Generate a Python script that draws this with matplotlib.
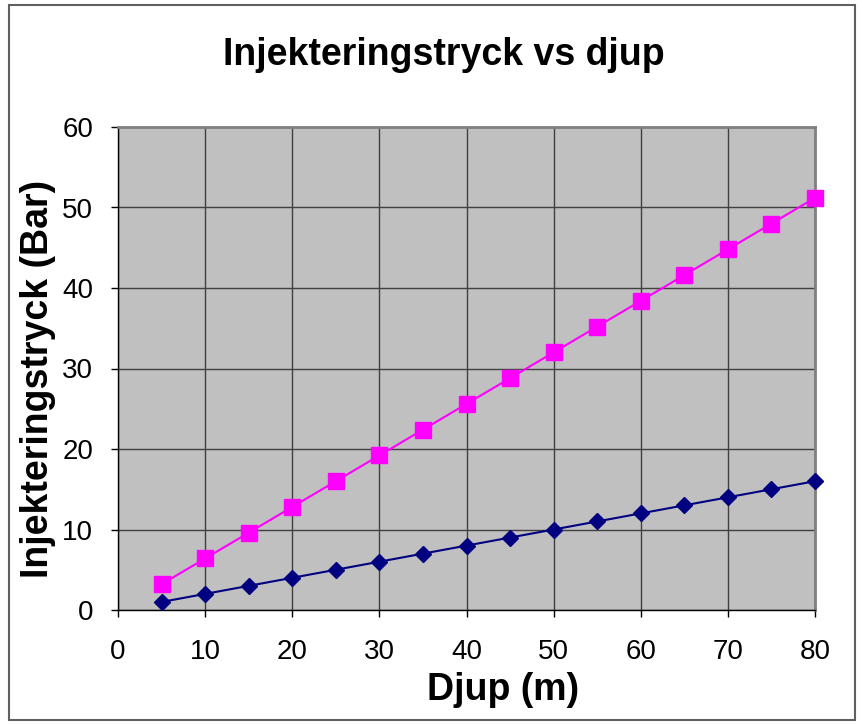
import matplotlib
matplotlib.use("Agg")
import matplotlib.pyplot as plt
from matplotlib.patches import Rectangle

depth = [5, 10, 15, 20, 25, 30, 35, 40, 45, 50, 55, 60, 65, 70, 75, 80]
low_pressure = [1, 2, 3, 4, 5, 6, 7, 8, 9, 10, 11, 12, 13, 14, 15, 16]
high_pressure = [3.2, 6.4, 9.6, 12.8, 16.0, 19.2, 22.4, 25.6, 28.8, 32.0,
                 35.2, 38.4, 41.6, 44.8, 48.0, 51.2]
xticks = [0, 10, 20, 30, 40, 50, 60, 70, 80]
yticks = [0, 10, 20, 30, 40, 50, 60]

plt.rcParams['font.family'] = ['Liberation Sans', 'DejaVu Sans']

W, H = 861, 726
fig = plt.figure(figsize=(W / 100, H / 100), dpi=100)
fig.patches.append(Rectangle((9 / W, 1 - 720 / H), 846 / W, 715 / H,
                             transform=fig.transFigure, fill=False,
                             edgecolor='#606060', linewidth=1.5))

ax = fig.add_axes([118 / W, 1 - 610 / H, (815 - 118) / W, (610 - 127) / H])
ax.set_facecolor('#C0C0C0')
ax.set_xlim(0, 80)
ax.set_ylim(0, 60)
ax.set_xticks(xticks)
ax.set_yticks(yticks)
ax.grid(True, color='#404040', linewidth=1)
ax.set_axisbelow(True)

ax.plot(depth, high_pressure, color='#FF00FF', marker='s', markersize=11,
        linewidth=1.5, zorder=3, clip_on=False)
ax.plot(depth, low_pressure, color='#000080', marker='D', markersize=8,
        linewidth=1.5, zorder=3, clip_on=False)

for s in ['top', 'right']:
    ax.spines[s].set_color('#808080')
    ax.spines[s].set_linewidth(2)
for s in ['left', 'bottom']:
    ax.spines[s].set_color('black')
    ax.spines[s].set_linewidth(1)

ax.tick_params(axis='both', direction='out', length=5, width=1, labelsize=20,
               colors='black')
ax.tick_params(axis='x', pad=16)
ax.tick_params(axis='y', pad=13)

fig.text(503 / W, 1 - 690 / H, 'Djup (m)', fontsize=27, fontweight='bold',
         ha='center', va='center')
fig.text(38 / W, 1 - 379 / H, 'Injekteringstryck (Bar)', fontsize=27,
         fontweight='bold', ha='center', va='center', rotation=90)
fig.text(444 / W, 1 - 55 / H, 'Injekteringstryck vs djup', fontsize=27,
         fontweight='bold', ha='center', va='center')

fig.savefig('out.png', dpi=100)
